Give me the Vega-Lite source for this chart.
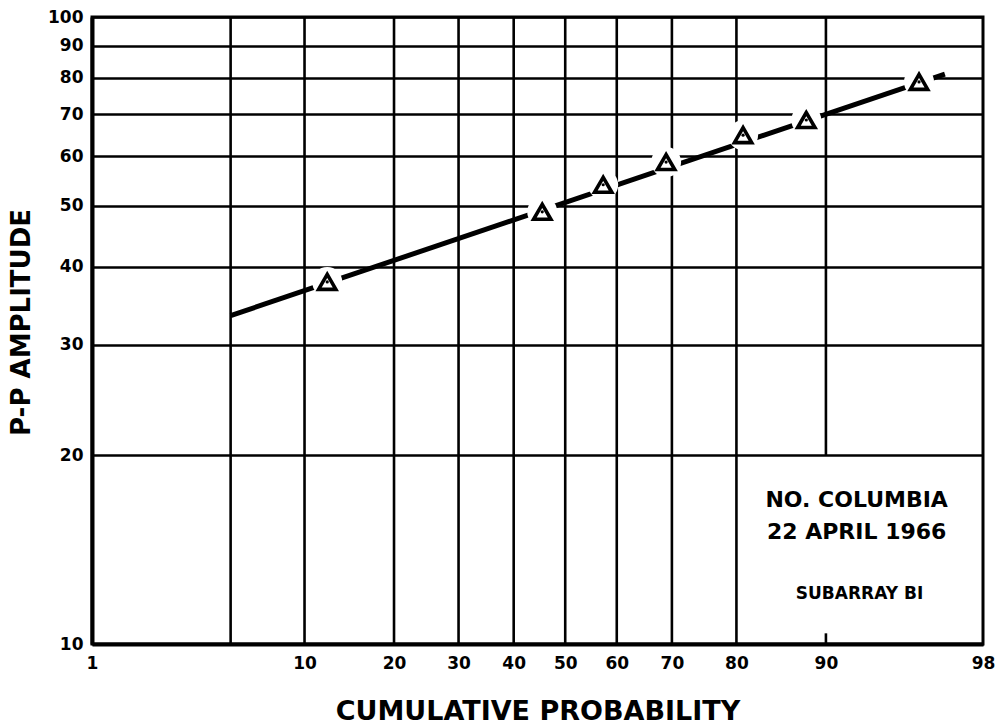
{
  "$schema": "https://vega.github.io/schema/vega-lite/v6.json",
  "width": 891,
  "height": 627,
  "autosize": {"type": "none"},
  "padding": {"left": 92, "top": 17, "right": 23, "bottom": 83},
  "background": "white",
  "config": {
    "view": {"stroke": "black", "strokeWidth": 3},
    "font": "DejaVu Sans",
    "axis": {
      "domainColor": "black",
      "domainWidth": 4,
      "labelFont": "DejaVu Sans",
      "labelFontWeight": "bold",
      "labelFontSize": 17,
      "labelColor": "black",
      "titleFont": "DejaVu Sans",
      "titleFontWeight": "bold",
      "titleColor": "black",
      "ticks": false,
      "tickSize": 0
    }
  },
  "datasets": {
    "points": [
      {"p": 12.1, "amp": 37.8},
      {"p": 45.5, "amp": 48.9},
      {"p": 57.4, "amp": 54.0},
      {"p": 69.0, "amp": 58.7},
      {"p": 80.9, "amp": 64.8},
      {"p": 88.2, "amp": 68.5},
      {"p": 95.9, "amp": 78.8}
    ],
    "fit": [
      {"p": 5.0, "amp": 33.4},
      {"p": 96.9, "amp": 81.1}
    ],
    "vgrid": [
      {"p": 5, "a1": 10, "a2": 100},
      {"p": 10, "a1": 10, "a2": 100},
      {"p": 20, "a1": 10, "a2": 100},
      {"p": 30, "a1": 10, "a2": 100},
      {"p": 40, "a1": 10, "a2": 100},
      {"p": 50, "a1": 10, "a2": 100},
      {"p": 60, "a1": 10, "a2": 100},
      {"p": 70, "a1": 10, "a2": 100},
      {"p": 80, "a1": 10, "a2": 100},
      {"p": 90, "a1": 20, "a2": 100},
      {"p": 90, "a1": 10, "a2": 10.4}
    ],
    "notes": [
      {"p": 92.4, "amp": 17.0, "label": "NO. COLUMBIA", "kind": "big"},
      {"p": 92.4, "amp": 15.1, "label": "22 APRIL 1966", "kind": "big"},
      {"p": 92.6, "amp": 12.0, "label": "SUBARRAY BI", "kind": "small"}
    ]
  },
  "layer": [
    {
      "data": {"name": "vgrid"},
      "transform": [{"calculate": "quantileNormal(datum.p / 100)", "as": "z"}],
      "mark": {"type": "rule", "color": "black", "strokeWidth": 2.6},
      "encoding": {
        "x": {
          "field": "z",
          "type": "quantitative",
          "scale": {"domain": [-2.3263, 2.0537], "nice": false, "zero": false},
          "axis": {
            "values": [-2.3263, -1.2816, -0.8416, -0.5244, -0.2533, 0, 0.2533, 0.5244, 0.8416, 1.2816, 2.0537],
            "labelExpr": "round(cumulativeNormal(datum.value) * 100)",
            "labelFlush": false,
            "labelPadding": 11,
            "grid": false,
            "title": "CUMULATIVE PROBABILITY",
            "titleFontSize": 27,
            "titleBaseline": "alphabetic",
            "titleY": 75
          }
        },
        "y": {
          "field": "a1",
          "type": "quantitative",
          "scale": {"type": "log", "domain": [10, 100], "nice": false},
          "axis": {
            "values": [10, 20, 30, 40, 50, 60, 70, 80, 90, 100],
            "format": "d",
            "labelPadding": 9,
            "grid": true,
            "gridColor": "black",
            "gridWidth": 2.6,
            "gridOpacity": 1,
            "title": "P-P AMPLITUDE",
            "titleFontSize": 26,
            "titleBaseline": "alphabetic",
            "titleAngle": -90,
            "titleX": -63,
            "titleY": 305
          }
        },
        "y2": {"field": "a2"}
      }
    },
    {
      "data": {"name": "fit"},
      "transform": [{"calculate": "quantileNormal(datum.p / 100)", "as": "z"}],
      "mark": {"type": "line", "color": "black", "strokeWidth": 5},
      "encoding": {
        "x": {"field": "z", "type": "quantitative"},
        "y": {"field": "amp", "type": "quantitative"}
      }
    },
    {
      "data": {"name": "points"},
      "transform": [{"calculate": "quantileNormal(datum.p / 100)", "as": "z"}],
      "mark": {"type": "point", "shape": "circle", "filled": true, "color": "white", "opacity": 1, "size": 900},
      "encoding": {
        "x": {"field": "z", "type": "quantitative"},
        "y": {"field": "amp", "type": "quantitative"}
      }
    },
    {
      "data": {"name": "points"},
      "transform": [{"calculate": "quantileNormal(datum.p / 100)", "as": "z"}],
      "mark": {"type": "point", "shape": "triangle-up", "fill": "white", "stroke": "black", "strokeWidth": 3.6, "opacity": 1, "size": 300},
      "encoding": {
        "x": {"field": "z", "type": "quantitative"},
        "y": {"field": "amp", "type": "quantitative"}
      }
    },
    {
      "data": {"name": "points"},
      "transform": [{"calculate": "quantileNormal(datum.p / 100)", "as": "z"}],
      "mark": {"type": "point", "shape": "circle", "filled": true, "color": "black", "opacity": 1, "size": 10},
      "encoding": {
        "x": {"field": "z", "type": "quantitative"},
        "y": {"field": "amp", "type": "quantitative"}
      }
    },
    {
      "data": {"name": "notes"},
      "transform": [
        {"calculate": "quantileNormal(datum.p / 100)", "as": "z"},
        {"filter": "datum.kind == 'big'"}
      ],
      "mark": {"type": "text", "font": "DejaVu Sans", "fontWeight": "bold", "fontSize": 22, "color": "black", "align": "center", "baseline": "middle"},
      "encoding": {
        "x": {"field": "z", "type": "quantitative"},
        "y": {"field": "amp", "type": "quantitative"},
        "text": {"field": "label"}
      }
    },
    {
      "data": {"name": "notes"},
      "transform": [
        {"calculate": "quantileNormal(datum.p / 100)", "as": "z"},
        {"filter": "datum.kind == 'small'"}
      ],
      "mark": {"type": "text", "font": "DejaVu Sans", "fontWeight": "bold", "fontSize": 17, "color": "black", "align": "center", "baseline": "middle"},
      "encoding": {
        "x": {"field": "z", "type": "quantitative"},
        "y": {"field": "amp", "type": "quantitative"},
        "text": {"field": "label"}
      }
    }
  ]
}
